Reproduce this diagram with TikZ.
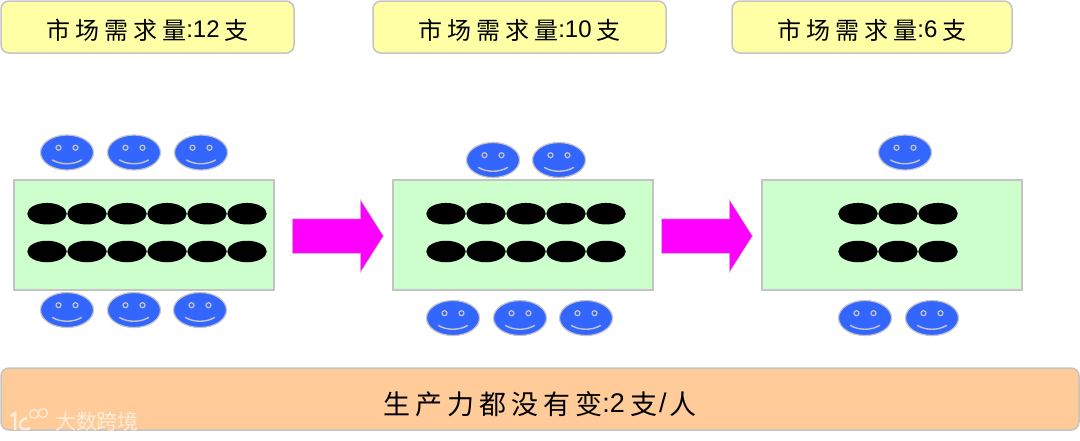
\documentclass[tikz,border=0pt]{standalone}
\usepackage{fontspec}
\setmainfont{Liberation Sans}
\newfontfamily\cjk{Noto Sans CJK SC}
\usetikzlibrary{
  arrows.meta, shapes.geometric, shapes.arrows,
  positioning, calc
}
\definecolor{BoxYellow}{RGB}{255,255,165}
\definecolor{BoxGreen}{RGB}{204,255,204}
\definecolor{BoxOrange}{RGB}{255,204,153}
\definecolor{FaceBlue}{RGB}{51,102,255}
\definecolor{EdgeGrey}{RGB}{196,196,196}
\definecolor{FlowPink}{RGB}{255,0,255}
\definecolor{MarkCream}{RGB}{252,236,218}
\newcommand{\hanzi}[1]{\raisebox{-2pt}{\cjk #1}}
\newcommand{\needtext}[1]{\hanzi{市\kern5pt 场\kern5pt 需\kern5pt 求\kern5pt 量}:#1\kern5pt\hanzi{支}}

\begin{document}
\begin{tikzpicture}[
        x=1pt,y=-1pt,
        demand/.style={rectangle,rounded corners=8pt,draw=EdgeGrey,fill=BoxYellow,
                   line width=1.5pt,minimum height=52pt,text height=20pt,text depth=0pt,
                   font=\fontsize{24}{28}\selectfont},
        worker/.style={rectangle,draw=EdgeGrey,fill=BoxGreen,line width=1.2pt,
                   minimum width=260pt,minimum height=110pt},
        pen/.style={ellipse,fill=black,minimum width=39.5pt,minimum height=21.5pt,inner sep=0pt},
        face/.style={ellipse,fill=FaceBlue,draw=EdgeGrey,line width=1.2pt,
                   minimum width=53pt,minimum height=35pt,inner sep=0pt},
        flow/.style={single arrow,fill=FlowPink,draw=EdgeGrey,line width=.5pt,
                   minimum height=91pt,minimum width=72pt,inner xsep=0pt,inner ysep=17pt,
                   single arrow head extend=19pt,single arrow tip angle=115},
        smiley/.pic={
          \node[face] (-f) at (0,0) {};
          \draw[EdgeGrey,line width=1.2pt] (-8.5,-4.8) circle[radius=2.5pt];
          \draw[EdgeGrey,line width=1.2pt] (8.5,-4.8) circle[radius=2.5pt];
          \draw[EdgeGrey,line width=1.4pt,line cap=round] (-14.5,7.5) .. controls (-6,12.5) and (6,12.5) .. (14.5,7.5);
        }
      ]
        \useasboundingbox (0,0) rectangle (1080,440);
        % demand labels
        \node[demand,minimum width=293pt] (need1) at (147.5,27) {\needtext{12}};
        \node[demand,minimum width=293pt] (need2) at (519.5,27) {\needtext{10}};
        \node[demand,minimum width=280pt] (need3) at (872,27) {\needtext{6}};
        % shops
        \node[worker] (shop1) at (144,235) {};
        \node[worker] (shop2) at (523,235) {};
        \node[worker] (shop3) at (892,235) {};
        \foreach \x in {47,87,127,167,207,247}{
          \node[pen] (a\x) at (\x,213.7) {};
          \node[pen] (b\x) at (\x,251.5) {};
        }
        \foreach \x in {446,486,526,566,606}{
          \node[pen] (a\x) at (\x,213.7) {};
          \node[pen] (b\x) at (\x,251.5) {};
        }
        \foreach \x in {858,898,938}{
          \node[pen] (a\x) at (\x,213.7) {};
          \node[pen] (b\x) at (\x,251.5) {};
        }
        % people
        \foreach \x in {67,134,201} \pic (u\x) at (\x,152.5) {smiley};
        \foreach \x in {67,134,200} \pic (d\x) at (\x,310) {smiley};
        \foreach \x in {493,559} \pic (u\x) at (\x,160) {smiley};
        \foreach \x in {453,520,586} \pic (d\x) at (\x,318) {smiley};
        \pic (u905) at (905,152.5) {smiley};
        \foreach \x in {865,932} \pic (d\x) at (\x,318) {smiley};
        % arrows
        \node[flow] (next1) at (332.5,236) {};
        \node[flow] (next2) at (701.5,236) {};
        % bottom
        \node[demand,fill=BoxOrange,minimum width=1078pt,minimum height=62pt,text height=26pt,
              font=\fontsize{27}{30}\selectfont] (skill) at (540,399)
          {\hanzi{生\kern5pt 产\kern5pt 力\kern5pt 都\kern5pt 没\kern5pt 有\kern5pt 变}:2\kern5pt\hanzi{支}\kern2pt/\kern3pt\hanzi{人}};
        \node[text=MarkCream,font=\cjk\fontsize{21}{24}\selectfont,inner sep=0pt] (mark) at (97,421) {大数跨境};
        \draw[MarkCream,line width=2.5pt] (11,416) -- (15,413) -- (15,430);
        \draw[MarkCream,line width=2.5pt] (27,418) .. controls (17,420) and (17,433) .. (30,428);
        \node[draw=MarkCream,circle,line width=1.2pt,minimum size=9pt,inner sep=0pt] (o1) at (34,414) {};
        \node[draw=MarkCream,circle,line width=1.2pt,minimum size=9pt,inner sep=0pt] (o2) at (43,413) {};
      \end{tikzpicture}
\end{document}
